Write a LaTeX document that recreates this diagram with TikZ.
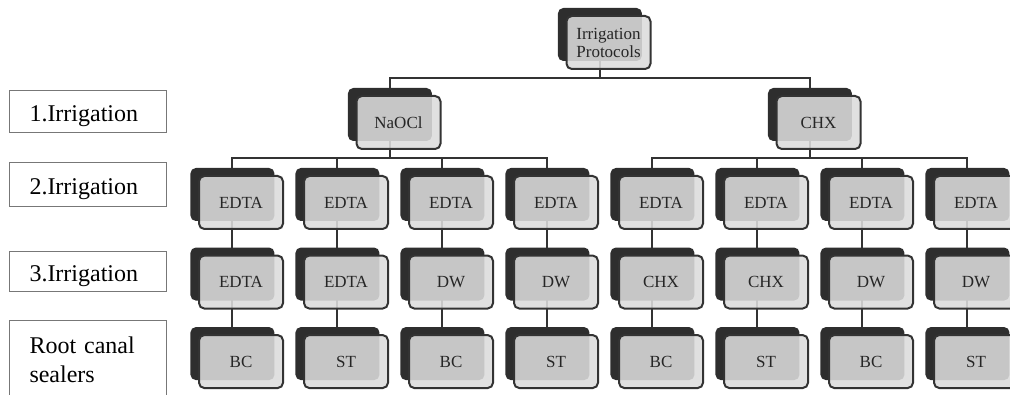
\documentclass[tikz,border=0pt]{standalone}
\usepackage{fontspec}
\setmainfont{Liberation Serif}
\usetikzlibrary{positioning,calc,shadows,backgrounds}
\definecolor{TreeDark}{HTML}{2E2E2E}
\definecolor{TreeLine}{HTML}{333333}
\definecolor{TreeFace}{HTML}{DCDCDC}
\definecolor{LevelEdge}{HTML}{777777}

\begin{document}
\begin{tikzpicture}[
  x=0.75pt, y=-0.75pt,
  node distance=18.4pt and 14.25pt,
  item/.style={rectangle, rounded corners=4pt, draw=TreeLine, line width=1.5pt,
    fill=TreeFace, fill opacity=0.88, text opacity=1, text=black!85,
    minimum width=63pt, minimum height=39.75pt, inner sep=1pt, align=center,
    font=\fontsize{12.75}{13.5}\selectfont,
    general shadow={fill=TreeDark, fill opacity=1, draw=none, shadow xshift=-6.4pt, shadow yshift=6pt}},
  lvl/.style={rectangle, draw=LevelEdge, line width=0.9pt, minimum width=117.75pt,
    text width=87.75pt, inner xsep=15pt, align=left, font=\fontsize{18}{21.75}\selectfont},
  lvlone/.style={lvl, minimum height=31.5pt, text height=15pt, text depth=0pt},
  link/.style={draw=TreeLine, line width=1.5pt},
  dk/.style={xshift=-6.4pt}
]
\useasboundingbox (0,0) rectangle (1010,395);

% level labels on the left
\node[lvlone]                      (lv1) at (88,111.5) {1.Irrigation};
\node[lvlone, minimum height=33pt] (lv2) at (88,184.5) {2.Irrigation};
\node[lvlone, minimum height=30pt] (lv3) at (88,271.5) {3.Irrigation};
\node[lvl, anchor=north, minimum height=59.25pt] (lv4) at (88,320) {Root canal\\sealers};

% second irrigation
\node[item]              (e1) at (241,202.5) {EDTA};
\node[item, right=of e1] (e2) {EDTA};
\node[item, right=of e2] (e3) {EDTA};
\node[item, right=of e3] (e4) {EDTA};
\node[item, right=of e4] (e5) {EDTA};
\node[item, right=of e5] (e6) {EDTA};
\node[item, right=of e6] (e7) {EDTA};
\node[item, right=of e7] (e8) {EDTA};

% third irrigation
\node[item, below=of e1] (t1) {EDTA};
\node[item, below=of e2] (t2) {EDTA};
\node[item, below=of e3] (t3) {DW};
\node[item, below=of e4] (t4) {DW};
\node[item, below=of e5] (t5) {CHX};
\node[item, below=of e6] (t6) {CHX};
\node[item, below=of e7] (t7) {DW};
\node[item, below=of e8] (t8) {DW};

% sealers
\node[item, below=of t1] (s1) {BC};
\node[item, below=of t2] (s2) {ST};
\node[item, below=of t3] (s3) {BC};
\node[item, below=of t4] (s4) {ST};
\node[item, below=of t5] (s5) {BC};
\node[item, below=of t6] (s6) {ST};
\node[item, below=of t7] (s7) {BC};
\node[item, below=of t8] (s8) {ST};

% first irrigation and the root
\node[item] (naocl) at ($(e2.center)!.5!(e3.center)+(0,-80)$) {NaOCl};
\node[item] (chx)   at ($(e6.center)!.5!(e7.center)+(0,-80)$) {CHX};
\node[item] (prot)  at ($(naocl.center)!.5!(chx.center)+(0,-80)$) {Irrigation\\Protocols};

% bus heights
\coordinate (b0) at ($(prot.south)!.5!(naocl.north)+(0,-4)$);
\coordinate (b1) at ($(naocl.south)!.5!(e1.north)+(0,-4)$);
\coordinate (b2) at ($(chx.south)!.5!(e5.north)+(0,-4)$);

\begin{scope}[on background layer]
\draw[link] ([dk]prot.center) -- ([dk]prot.center |- b0) -| ([dk]naocl.center);
\draw[link] ([dk]prot.center |- b0) -| ([dk]chx.center);

\draw[link] ([dk]naocl.center) -- ([dk]naocl.center |- b1) -| ([dk]e1.center);
\draw[link] ([dk]naocl.center |- b1) -| ([dk]e2.center);
\draw[link] ([dk]naocl.center |- b1) -| ([dk]e3.center);
\draw[link] ([dk]naocl.center |- b1) -| ([dk]e4.center);

\draw[link] ([dk]chx.center) -- ([dk]chx.center |- b2) -| ([dk]e5.center);
\draw[link] ([dk]chx.center |- b2) -| ([dk]e6.center);
\draw[link] ([dk]chx.center |- b2) -| ([dk]e7.center);
\draw[link] ([dk]chx.center |- b2) -| ([dk]e8.center);

\draw[link] ([dk]e1.center) -- ([dk]s1.center);
\draw[link] ([dk]e2.center) -- ([dk]s2.center);
\draw[link] ([dk]e3.center) -- ([dk]s3.center);
\draw[link] ([dk]e4.center) -- ([dk]s4.center);
\draw[link] ([dk]e5.center) -- ([dk]s5.center);
\draw[link] ([dk]e6.center) -- ([dk]s6.center);
\draw[link] ([dk]e7.center) -- ([dk]s7.center);
\draw[link] ([dk]e8.center) -- ([dk]s8.center);
\end{scope}
\end{tikzpicture}
\end{document}
